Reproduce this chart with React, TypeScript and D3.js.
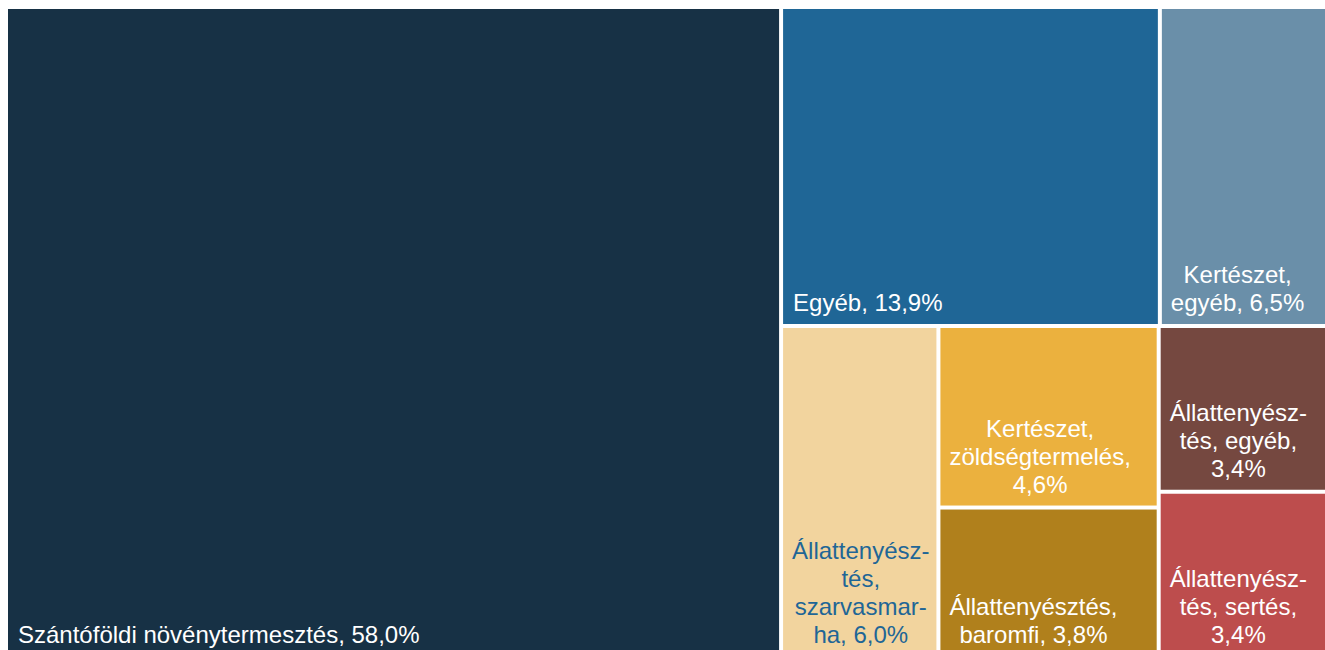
import React, { useMemo, useLayoutEffect } from "react";
import * as d3 from "d3";

// ---- data ----
const categories = [
  "Szántóföldi növénytermesztés",
  "Egyéb",
  "Kertészet, egyéb",
  "Állattenyésztés, szarvasmarha",
  "Kertészet, zöldségtermelés",
  "Állattenyésztés, baromfi",
  "Állattenyésztés, egyéb",
  "Állattenyésztés, sertés",
];
const shares = [58.0, 13.9, 6.5, 6.0, 4.6, 3.8, 3.4, 3.4];
// wrapped label lines; {v} is replaced by the formatted share
const labelLines = [
  ["Szántóföldi növénytermesztés, {v}"],
  ["Egyéb, {v}"],
  ["Kertészet,", "egyéb, {v}"],
  ["Állattenyész-", "tés,", "szarvasmar-", "ha, {v}"],
  ["Kertészet,", "zöldségtermelés,", "{v}"],
  ["Állattenyésztés,", "baromfi, {v}"],
  ["Állattenyész-", "tés, egyéb,", "{v}"],
  ["Állattenyész-", "tés, sertés,", "{v}"],
];
const fills = ["#173145", "#1f6696", "#6a8fa9", "#f2d49e", "#ebb13e", "#b0801c", "#754840", "#bd4d4d"];
const textColors = ["#fff", "#fff", "#fff", "#1f6696", "#fff", "#fff", "#fff", "#fff"];
const leftAligned = [true, true, false, false, false, false, false, false];
// layout grouping (indices) – reproduces the reference arrangement
const layoutGroups = [0, [[1, 2], [3, [4, 5], [6, 7]]]];

const SVG_W = 1325;
const SVG_H = 650;
const W = 1327;
const H = 646.5;
const OX = 8;
const OY = 9;
const FONT = 24;
const LINE = 28;
const FONT_FAMILY = "'Liberation Sans', Arial, sans-serif";

const fmt = (v: number) => v.toFixed(1).replace(".", ",") + "%";

function build(g: any): any {
  if (typeof g === "number") return { idx: g, name: categories[g], value: shares[g] };
  return { children: g.map(build) };
}

let ctx: CanvasRenderingContext2D | null = null;
function measure(t: string) {
  if (!ctx) ctx = document.createElement("canvas").getContext("2d");
  ctx!.font = `${FONT}px ${FONT_FAMILY}`;
  return ctx!.measureText(t).width;
}

export default function App() {
  useLayoutEffect(() => {
    document.body.style.margin = "0";
    document.body.style.overflow = "hidden";
  }, []);

  const leaves = useMemo(() => {
    const root = d3.hierarchy(build(layoutGroups)).sum((d: any) => (d.children ? 0 : d.value));
    d3.treemap<any>().tile(d3.treemapSliceDice).size([W, H]).paddingInner(4)(root);
    return root.leaves() as any[];
  }, []);

  return (
    <svg width={SVG_W} height={SVG_H} style={{ display: "block" }}>
      <g transform={`translate(${OX},${OY})`}>
        {leaves.map((n) => {
          const i = n.data.idx;
          const lines = labelLines[i].map((l) => l.replace("{v}", fmt(shares[i])));
          const maxW = Math.max(...lines.map(measure));
          const bottom = n.y1 - 13;
          const x = leftAligned[i] ? n.x0 + 10 : n.x0 + 9 + maxW / 2;
          return (
            <g key={i}>
              <rect x={n.x0} y={n.y0} width={n.x1 - n.x0} height={n.y1 - n.y0} fill={fills[i]} />
              <text
                fontFamily={FONT_FAMILY}
                fontSize={FONT}
                fill={textColors[i]}
                textAnchor={leftAligned[i] ? "start" : "middle"}
              >
                {lines.map((l, k) => (
                  <tspan key={k} x={x} y={bottom - (lines.length - 1 - k) * LINE}>
                    {l}
                  </tspan>
                ))}
              </text>
            </g>
          );
        })}
      </g>
    </svg>
  );
}
